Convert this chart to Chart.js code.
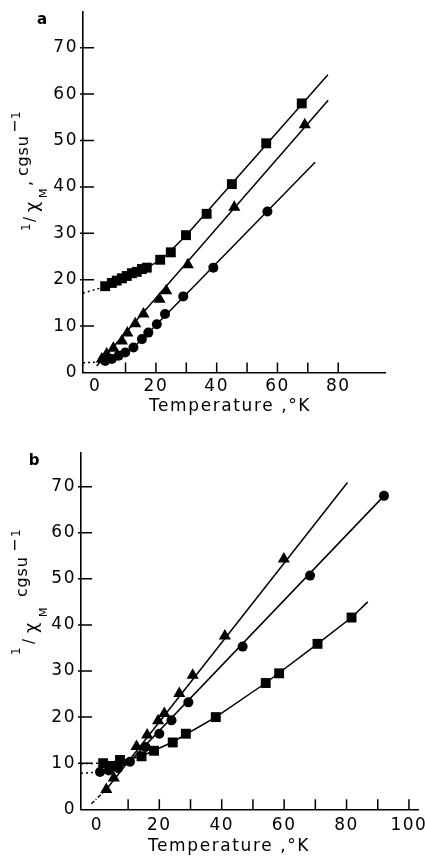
<!DOCTYPE html>
<html>
<head>
<meta charset="utf-8">
<script src="https://cdn.jsdelivr.net/npm/chart.js@4"></script>
<style>
html, body { margin: 0; padding: 0; background: #fff; }
#wrap { position: relative; width: 425px; height: 857px; }
canvas { position: absolute; left: 0; }
#chartA { top: 0; }
#chartB { top: 430px; }
</style>
</head>
<body>
<div id="wrap">
  <canvas id="chartA" width="425" height="430"></canvas>
  <canvas id="chartB" width="425" height="427"></canvas>
</div>
<script>
// values are [temperature K, 1/chi_M cgsu^-1]
// panel a
const aSquares = [[3.3,18.6],[5.5,19.3],[7.1,19.8],[8.8,20.3],[10.4,20.8],[12.1,21.4],[13.7,21.7],[15.4,22.3],[17.0,22.6],[21.4,24.3],[24.9,25.9],[29.9,29.6],[36.7,34.2],[45.0,40.6],[56.3,49.4],[68.0,58.0]];
const aTriangles = [[2.2,2.9],[3.8,4.0],[6.0,5.2],[8.8,6.8],[10.6,8.5],[13.2,10.5],[15.9,12.6],[21.2,15.8],[23.4,17.6],[30.5,23.2],[45.8,35.6],[69.0,53.4]];
const aCircles = [[3.3,2.5],[5.5,2.9],[7.7,3.6],[9.9,4.3],[12.6,5.4],[15.4,7.2],[17.5,8.6],[20.3,10.4],[23.0,12.6],[29.0,16.4],[38.9,22.6],[56.7,34.7]];
const aSquareCurve = [[3.3,18.5],[10,20.5],[17,22.6],[22,24.4],[30,29.6],[76.6,64.2]];
const aSquareExtra = [[-4,17.1],[3.3,18.5]];
const aTriangleLine = [[0.5,1.4],[76.7,58.7]];
const aCircleCurve = [[3,2.3],[8,3.6],[12,5.1],[15.4,7.1],[72.4,45.3]];
const aCircleExtra = [[-4,2.1],[3,2.3]];

// panel b
const bTriangles = [[3.0,4.3],[5.4,6.8],[12.7,13.6],[16.1,16.1],[19.6,19.2],[21.6,20.8],[26.4,25.1],[30.7,29.1],[41.0,37.6],[59.9,54.3]];
const bCircles = [[1.0,8.1],[3.8,8.4],[6.8,8.9],[10.6,10.3],[15.6,13.5],[20.0,16.4],[23.9,19.3],[29.3,23.2],[46.7,35.3],[68.3,50.7],[92.0,68.0]];
const bSquares = [[2.0,10.0],[4.5,9.4],[7.4,10.7],[14.3,11.5],[18.3,12.7],[24.3,14.5],[28.5,16.4],[38.1,20.0],[54.1,27.4],[58.4,29.5],[70.7,35.9],[81.6,41.6]];
const bTriangleLine = [[3,4.3],[80.3,70.9]];
const bTriangleExtra = [[-1.8,1.2],[3,4.3]];
const bCircleCurve = [[1,8.1],[6.8,8.9],[10.6,10.4],[92,68]];
const bCircleExtra = [[-5.1,7.8],[1,8.1]];
const bSquareCurve = [[2,10],[8,10.6],[14.3,11.5],[24.3,14.6],[38.1,20],[54.1,27.4],[70.7,35.9],[81.6,41.6],[86.8,45]];
const bSquareExtra = [[-5.1,9.9],[2,10]];

// axis ticks
const aXLabels = [0, 20, 40, 60, 80];
const aXMarks = [10, 20, 30, 40, 50, 60, 70, 80];
const bXLabels = [0, 20, 40, 60, 80, 100];
const bXMarks = [10, 20, 30, 40, 50, 60, 70, 80, 90, 100];
const yLabels = [0, 10, 20, 30, 40, 50, 60, 70];
const yMarks = [10, 20, 30, 40, 50, 60, 70];

const FONT = "DejaVu Sans";
const toXY = pts => pts.map(([x, y]) => ({ x, y }));

function points(data, style, r) {
    return {
        data: toXY(data),
        showLine: false,
        pointStyle: style,
        pointRadius: r,
        pointBackgroundColor: "#000",
        pointBorderColor: "#000",
        pointBorderWidth: 0,
        clip: false,
    };
}

function line(data, dash) {
    return {
        data: toXY(data),
        showLine: true,
        pointRadius: 0,
        borderColor: "#000",
        borderWidth: 1.5,
        borderDash: dash || [],
        tension: 0,
        fill: false,
    };
}

function decor(cfg) {
    return {
        id: "decor",
        beforeDraw(chart) {
            chart.ctx.letterSpacing = "1.5px";
        },
        afterDraw(chart) {
            const { ctx, chartArea: a, scales: { x, y } } = chart;
            ctx.save();
            ctx.letterSpacing = "0px";
            ctx.strokeStyle = "#000";
            ctx.lineWidth = 1.5;
            ctx.beginPath();
            for (const v of cfg.yMarks) {
                const py = y.getPixelForValue(v);
                ctx.moveTo(a.left - 3, py);
                ctx.lineTo(a.left + 11, py);
            }
            for (const v of cfg.xMarks) {
                const px = x.getPixelForValue(v);
                ctx.moveTo(px, a.bottom);
                ctx.lineTo(px, a.bottom - 10);
            }
            ctx.stroke();

            ctx.fillStyle = "#000";
            ctx.font = `17px "${FONT}"`;
            ctx.letterSpacing = "1.6px";
            ctx.textAlign = "center";
            ctx.textBaseline = "middle";
            ctx.fillText("Temperature ,°K", cfg.xTitle[0], cfg.xTitle[1]);

            // rotated y title, piece by piece (sub/superscripts)
            ctx.textAlign = "left";
            ctx.textBaseline = "alphabetic";
            ctx.letterSpacing = "0.8px";
            for (const p of cfg.yTitle) {
                ctx.save();
                ctx.translate(p.x, p.y);
                ctx.rotate(-Math.PI / 2);
                ctx.font = `${p.size}px "${FONT}"`;
                ctx.fillText(p.t, 0, 0);
                ctx.restore();
            }

            ctx.letterSpacing = "0px";
            ctx.font = `bold 15px "${FONT}"`;
            ctx.textAlign = "center";
            ctx.textBaseline = "middle";
            ctx.fillText(cfg.letter, cfg.letterPos[0], cfg.letterPos[1]);
            ctx.restore();
        },
    };
}

function panel(id, cfg) {
    new Chart(document.getElementById(id), {
        type: "scatter",
        data: { datasets: cfg.datasets },
        options: {
            responsive: false,
            animation: false,
            events: [],
            layout: { padding: cfg.padding },
            plugins: { legend: { display: false }, tooltip: { enabled: false } },
            scales: {
                x: {
                    type: "linear",
                    min: cfg.xMin,
                    max: cfg.xMax,
                    grid: { display: false, drawTicks: false },
                    border: { display: true, color: "#000", width: 1.6 },
                    ticks: {
                        color: "#000",
                        font: { family: FONT, size: 17 },
                        padding: cfg.xPad,
                        maxRotation: 0,
                        autoSkip: false,
                    },
                    afterBuildTicks: (s) => { s.ticks = cfg.xLabels.map(v => ({ value: v })); },
                    afterFit: (s) => { s.height = cfg.xH; s.paddingLeft = 0; s.paddingRight = 0; },
                },
                y: {
                    type: "linear",
                    min: 0,
                    max: cfg.yMax,
                    grid: { display: false, drawTicks: false },
                    border: { display: true, color: "#000", width: 1.6 },
                    ticks: {
                        color: "#000",
                        font: { family: FONT, size: 17 },
                        padding: 5,
                        autoSkip: false,
                    },
                    afterBuildTicks: (s) => { s.ticks = yLabels.map(v => ({ value: v })); },
                    afterFit: (s) => { s.width = cfg.yW; s.paddingTop = 0; s.paddingBottom = 0; },
                },
            },
        },
        plugins: [decor(cfg)],
    });
}

panel("chartA", {
    xMin: -4, xMax: 95.4, yMax: 77.7, yW: 83, xH: 57.5, xPad: 4,
    padding: { top: 12, right: 40, left: 0, bottom: 0 },
    xLabels: aXLabels, xMarks: aXMarks, yMarks: yMarks,
    xTitle: [230, 407],
    letter: "a", letterPos: [42, 20],
    yTitle: [
        { t: "1", x: 30, y: 231, size: 12 },
        { t: "/", x: 35, y: 222, size: 15 },
        { t: "χ", x: 38, y: 212, size: 18 },
        { t: "M", x: 47, y: 198, size: 11 },
        { t: ",", x: 31, y: 186, size: 16 },
        { t: "cgsu", x: 28, y: 176, size: 16 },
        { t: "−", x: 20, y: 133, size: 16 },
        { t: "1", x: 20, y: 119, size: 12 },
    ],
    datasets: [
        points(aSquares, "rect", 7),
        points(aTriangles, "triangle", 7),
        points(aCircles, "circle", 5),
        line(aSquareCurve),
        line(aSquareExtra, [2, 3]),
        line(aTriangleLine),
        line(aCircleCurve),
        line(aCircleExtra, [2, 3]),
    ],
});

panel("chartB", {
    xMin: -5.1, xMax: 102.9, yMax: 77.3, yW: 81, xH: 47.7, xPad: 6,
    padding: { top: 23, right: 7, left: 0, bottom: 0 },
    xLabels: bXLabels, xMarks: bXMarks, yMarks: yMarks,
    xTitle: [229, 417],
    letter: "b", letterPos: [34, 31],
    yTitle: [
        { t: "1", x: 20, y: 225, size: 12 },
        { t: "/", x: 34, y: 214, size: 15 },
        { t: "χ", x: 37, y: 203, size: 18 },
        { t: "M", x: 47, y: 187, size: 11 },
        { t: "cgsu", x: 27, y: 167, size: 16 },
        { t: "−", x: 20, y: 122, size: 16 },
        { t: "1", x: 20, y: 107, size: 12 },
    ],
    datasets: [
        points(bTriangles, "triangle", 7),
        points(bCircles, "circle", 5),
        points(bSquares, "rect", 7),
        line(bTriangleLine),
        line(bTriangleExtra, [4, 2, 1, 2]),
        line(bCircleCurve),
        line(bCircleExtra, [2, 3]),
        line(bSquareCurve),
        line(bSquareExtra, [2, 3]),
    ],
});
</script>
</body>
</html>
